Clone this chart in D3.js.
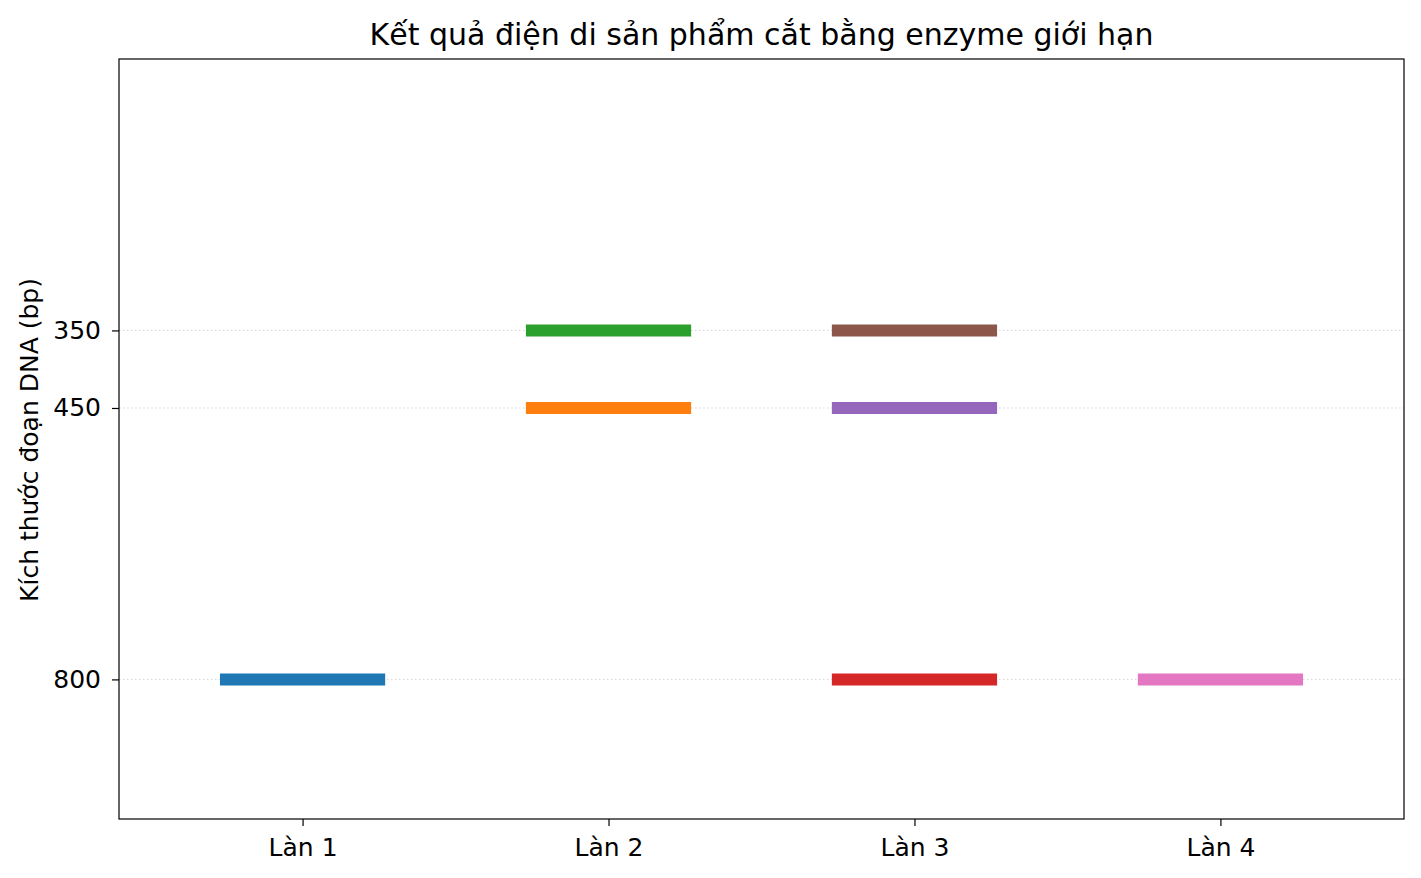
<!DOCTYPE html>
<html>
<head>
<meta charset="utf-8">
<script src="https://cdn.jsdelivr.net/npm/d3@7"></script>
<style>
  body { margin: 0; background: #fff; }
  text { font-family: "DejaVu Sans", sans-serif; }
</style>
</head>
<body>
<svg class="svg" width="1421" height="878"></svg>
<script>
// lanes and bands (bp)
let lanes = ['Làn 1', 'Làn 2', 'Làn 3', 'Làn 4'];
let bandLane = [1, 2, 2, 3, 3, 3, 4];
let bandSize = [800, 450, 350, 800, 450, 350, 800];
let bandColor = ['#1f77b4', '#ff7f0e', '#2ca02c', '#d62728', '#9467bd', '#8c564b', '#e377c2'];
let yTicks = [350, 450, 800];

let plotL = 119, plotR = 1404, plotT = 59, plotB = 819;
let halfW = 0.27;

let svg = d3.select('.svg');

let x = d3.scaleLinear().domain([0.4, 4.6]).range([plotL, plotR]);
let y = d3.scaleLinear().domain([0, 980]).range([plotT, plotB]);

// grid
svg.append('g').selectAll('line').data(yTicks).enter().append('line')
    .attr('x1', plotL).attr('x2', plotR)
    .attr('y1', d => y(d)).attr('y2', d => y(d))
    .attr('stroke', '#b0b0b0').attr('stroke-opacity', 0.5)
    .attr('stroke-width', 1).attr('stroke-dasharray', '1.5,2.5');

// bands
svg.append('g').selectAll('line').data(bandSize).enter().append('line')
    .attr('x1', (d, i) => x(bandLane[i] - halfW))
    .attr('x2', (d, i) => x(bandLane[i] + halfW))
    .attr('y1', d => y(d)).attr('y2', d => y(d))
    .attr('stroke', (d, i) => bandColor[i])
    .attr('stroke-width', 12);

// axes
let xAxis = d3.axisBottom(x).tickValues([1, 2, 3, 4]).tickFormat((d, i) => lanes[i])
    .tickSizeOuter(0).tickSize(7).tickPadding(11);
let yAxis = d3.axisLeft(y).tickValues(yTicks).tickSizeOuter(0).tickSize(7).tickPadding(11);

let gx = svg.append('g').attr('transform', 'translate(0,' + plotB + ')').call(xAxis);
let gy = svg.append('g').attr('transform', 'translate(' + plotL + ',0)').call(yAxis);
[gx, gy].forEach(g => {
    g.select('.domain').remove();
    g.attr('font-family', null).attr('font-size', null);
    g.selectAll('.tick line').attr('stroke', '#000').attr('stroke-width', 1.2);
    g.selectAll('.tick text').style('font-size', '25px').attr('fill', '#000');
});
gx.selectAll('.tick text').attr('dy', '0.74em');

// frame
svg.append('rect').attr('x', plotL).attr('y', plotT)
    .attr('width', plotR - plotL).attr('height', plotB - plotT)
    .attr('fill', 'none').attr('stroke', '#000').attr('stroke-width', 1.2);

// title and label
svg.append('text').attr('x', (plotL + plotR) / 2).attr('y', 45)
    .attr('text-anchor', 'middle').style('font-size', '30px')
    .text('Kết quả điện di sản phẩm cắt bằng enzyme giới hạn');

svg.append('text')
    .attr('transform', 'translate(38,' + ((plotT + plotB) / 2 + 1) + ') rotate(-90)')
    .attr('text-anchor', 'middle').style('font-size', '25px')
    .text('Kích thước đoạn DNA (bp)');
</script>
</body>
</html>
